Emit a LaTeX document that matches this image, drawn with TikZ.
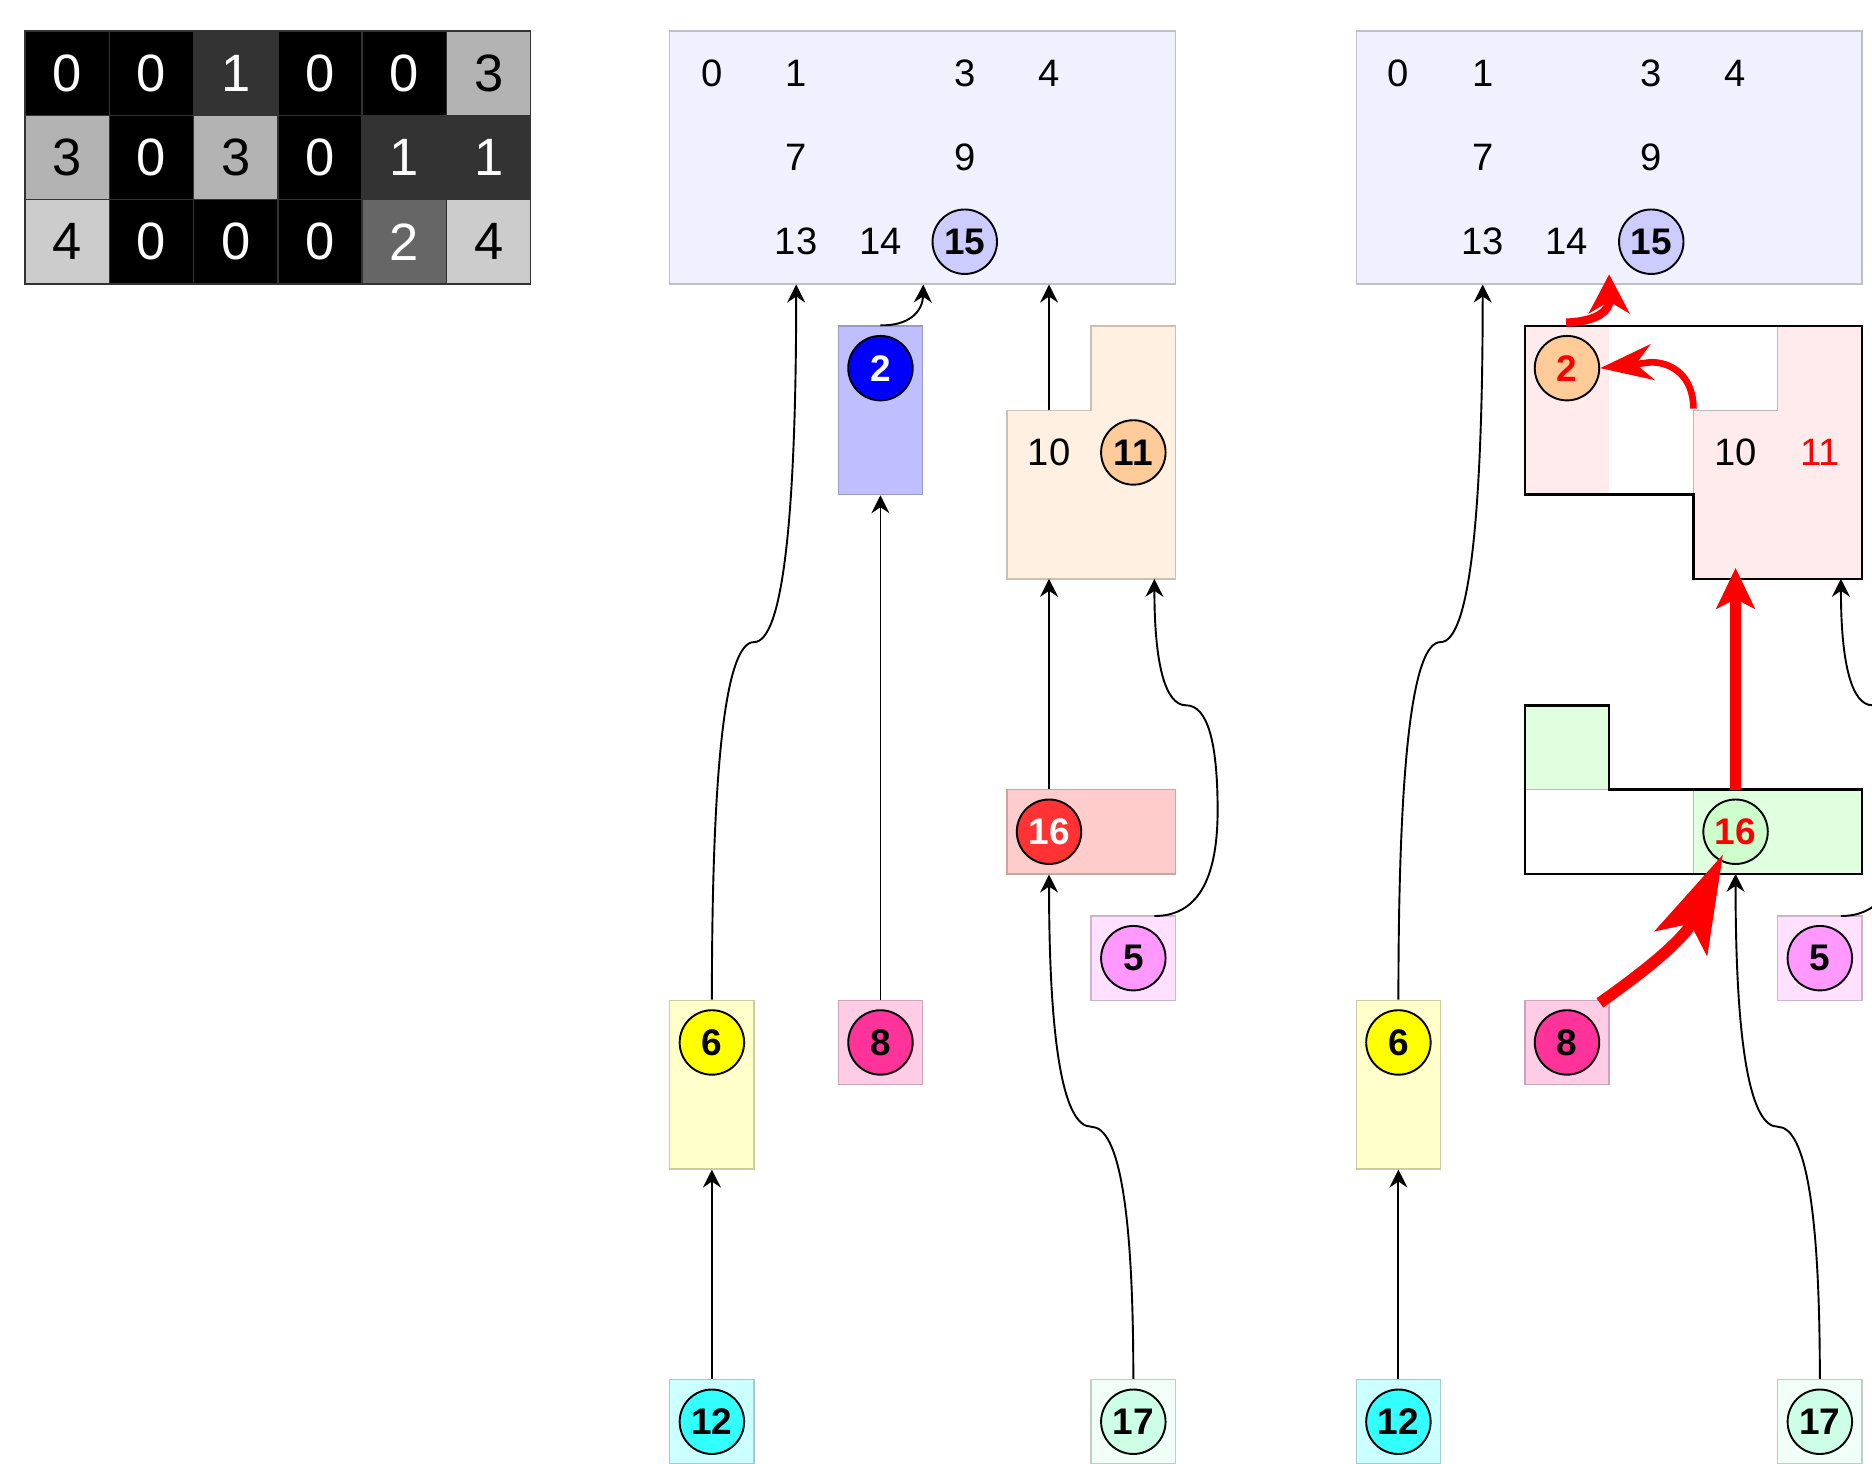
\documentclass[tikz,border=0pt]{standalone}
\usepackage{fontspec}
\setmainfont{Liberation Sans}
\usetikzlibrary{arrows.meta}
\definecolor{gOne}{HTML}{333333}
\definecolor{gTwo}{HTML}{666666}
\definecolor{gThree}{HTML}{B3B3B3}
\definecolor{gFour}{HTML}{CCCCCC}
\definecolor{panelF}{HTML}{F0F0FF}
\definecolor{cFifteen}{HTML}{CCCCFF}
\definecolor{boxTwo}{HTML}{BFBFFF}
\definecolor{cTwo}{HTML}{0000FF}
\definecolor{boxEleven}{HTML}{FFF0E1}
\definecolor{cEleven}{HTML}{FFCC99}
\definecolor{boxSixteen}{HTML}{FFCCCC}
\definecolor{cSixteen}{HTML}{FF3333}
\definecolor{boxFive}{HTML}{FFE1FF}
\definecolor{cFive}{HTML}{FF99FF}
\definecolor{boxEight}{HTML}{FFCCE6}
\definecolor{cEight}{HTML}{FF3399}
\definecolor{boxSix}{HTML}{FFFFCC}
\definecolor{cSix}{HTML}{FFFF00}
\definecolor{boxTwelve}{HTML}{CCFFFF}
\definecolor{cTwelve}{HTML}{33FFFF}
\definecolor{boxSeventeen}{HTML}{F0FFF7}
\definecolor{cSeventeen}{HTML}{CCFFE6}
\definecolor{mergePink}{HTML}{FFEBEB}
\definecolor{mergeGreen}{HTML}{DFFFDF}
\definecolor{cGreen}{HTML}{CCFFCC}
\definecolor{edgeRed}{HTML}{FF0000}
\definecolor{oldEdge}{HTML}{BDB8B8}
\begin{document}
\begin{tikzpicture}[x=35.3pt,y=-35.3pt,
  cell/.style={draw=black!80,line width=0.6pt,minimum size=35.3pt,inner sep=0pt,font=\fontsize{22}{24}\selectfont},
  gz/.style={cell,fill=black,text=white},
  go/.style={cell,fill=gOne,text=white},
  gw/.style={cell,fill=gTwo,text=white},
  gt/.style={cell,fill=gThree,text=black},
  gf/.style={cell,fill=gFour,text=black},
  panel/.style={draw=#1!80!black,fill=#1,line width=0.6pt,inner sep=0pt},
  one/.style={minimum width=35.3pt,minimum height=35.3pt},
  tall/.style={minimum width=35.3pt,minimum height=70.6pt},
  wide/.style={minimum width=70.6pt,minimum height=35.3pt},
  dot/.style={circle,draw=black,line width=0.8pt,fill=#1,minimum size=27pt,inner sep=0pt,font=\fontsize{15.5}{16}\selectfont\bfseries},
  lbl/.style={inner sep=0pt,font=\fontsize{16}{18}\selectfont},
  link/.style={line width=0.8pt,-{Stealth[length=7.5pt,width=7.5pt,inset=2.5pt]}},
  redlink/.style={draw=edgeRed,line cap=butt,line join=round},
  oldline/.style={draw=oldEdge,line width=0.6pt},
  mergeline/.style={draw=black,line width=1.1pt}
]
\useasboundingbox (0,0) rectangle (22.21,17.365);
\clip (0,0) rectangle (22.21,17.365);

% ---------------- grid ----------------
\begin{scope}[shift={(0.297,0.368)}]
  \node[gz] (g00) at (0.5,0.5) {0};
  \node[gz] (g01) at (1.5,0.5) {0};
  \node[go] (g02) at (2.5,0.5) {1};
  \node[gz] (g03) at (3.5,0.5) {0};
  \node[gz] (g04) at (4.5,0.5) {0};
  \node[gt] (g05) at (5.5,0.5) {3};
  \node[gt] (g10) at (0.5,1.5) {3};
  \node[gz] (g11) at (1.5,1.5) {0};
  \node[gt] (g12) at (2.5,1.5) {3};
  \node[gz] (g13) at (3.5,1.5) {0};
  \node[go] (g14) at (4.5,1.5) {1};
  \node[go] (g15) at (5.5,1.5) {1};
  \node[gf] (g20) at (0.5,2.5) {4};
  \node[gz] (g21) at (1.5,2.5) {0};
  \node[gz] (g22) at (2.5,2.5) {0};
  \node[gz] (g23) at (3.5,2.5) {0};
  \node[gw] (g24) at (4.5,2.5) {2};
  \node[gf] (g25) at (5.5,2.5) {4};
\end{scope}

% ---------------- middle panel ----------------
\begin{scope}[shift={(7.946,0.368)}]
  \node[panel=panelF,minimum width=211.8pt,minimum height=105.9pt] (mBig) at (3,1.5) {};
  \node[lbl] (mT0) at (0.5,0.5) {0};
  \node[lbl] (mT1) at (1.5,0.5) {1};
  \node[lbl] (mT3) at (3.5,0.5) {3};
  \node[lbl] (mT4) at (4.5,0.5) {4};
  \node[lbl] (mT7) at (1.5,1.5) {7};
  \node[lbl] (mT9) at (3.5,1.5) {9};
  \node[lbl] (mT13) at (1.5,2.5) {13};
  \node[lbl] (mT14) at (2.5,2.5) {14};
  \node[dot=cFifteen] (mC15) at (3.5,2.5) {15};

  \node[panel=boxTwo,tall] (mB2) at (2.5,4.5) {};
  \node[dot=cTwo,text=white] (mC2) at (2.5,4) {2};

  \draw[draw=boxEleven!80!black,fill=boxEleven,line width=0.6pt] (4,4.5) -- (5,4.5) -- (5,3.5) -- (6,3.5) -- (6,6.5) -- (4,6.5) -- cycle;
  \coordinate (mS10top) at (4.5,4.5);
  \coordinate (mS10bot) at (4.5,6.5);
  \coordinate (mS11bot) at (5.75,6.5);
  \node[lbl] (mT10) at (4.5,5) {10};
  \node[dot=cEleven] (mC11) at (5.5,5) {11};

  \node[panel=boxSixteen,wide] (mB16) at (5,9.5) {};
  \node[dot=cSixteen,text=white] (mC16) at (4.5,9.5) {16};

  \node[panel=boxFive,one] (mB5) at (5.5,11) {};
  \node[dot=cFive] (mC5) at (5.5,11) {5};
  \coordinate (mS5top) at (5.75,10.5);

  \node[panel=boxEight,one] (mB8) at (2.5,12) {};
  \node[dot=cEight] (mC8) at (2.5,12) {8};

  \node[panel=boxSix,tall] (mB6) at (0.5,12.5) {};
  \node[dot=cSix] (mC6) at (0.5,12) {6};

  \node[panel=boxTwelve,one] (mB12) at (0.5,16.5) {};
  \node[dot=cTwelve] (mC12) at (0.5,16.5) {12};

  \node[panel=boxSeventeen,one] (mB17) at (5.5,16.5) {};
  \node[dot=cSeventeen] (mC17) at (5.5,16.5) {17};

  \draw[link] (mB12.north) -- (mB6.south);
  \draw[link] (mB6.north) .. controls (0.5,8.667) and (0.667,7.25) .. (1,7.25) .. controls (1.333,7.25) and (1.5,5.833) .. (mBig.south -| mT1);
  \draw[link] (mB8.north) -- (mB2.south);
  \draw[link] (mB2.north) .. controls (2.833,3.5) and (3,3.333) .. (mBig.south -| mB2.east);
  \draw[link] (mS10top) -- (mBig.south -| mS10top);
  \draw[link] (mB16.north -| mC16) -- (mS10bot);
  \draw[link] (mB17.north) .. controls (5.5,14) and (5.333,13) .. (5,13) .. controls (4.667,13) and (4.5,12) .. (mB16.south -| mC16);
  \draw[link] (mS5top) .. controls (6.25,10.5) and (6.5,10.083) .. (6.5,9.25) .. controls (6.5,8.417) and (6.375,8) .. (6.125,8) .. controls (5.875,8) and (5.75,7.5) .. (mS11bot);
\end{scope}

% ---------------- right panel ----------------
\begin{scope}[shift={(16.091,0.368)}]
  \node[panel=panelF,minimum width=211.8pt,minimum height=105.9pt] (rBig) at (3,1.5) {};
  \node[lbl] (rT0) at (0.5,0.5) {0};
  \node[lbl] (rT1) at (1.5,0.5) {1};
  \node[lbl] (rT3) at (3.5,0.5) {3};
  \node[lbl] (rT4) at (4.5,0.5) {4};
  \node[lbl] (rT7) at (1.5,1.5) {7};
  \node[lbl] (rT9) at (3.5,1.5) {9};
  \node[lbl] (rT13) at (1.5,2.5) {13};
  \node[lbl] (rT14) at (2.5,2.5) {14};
  \node[dot=cFifteen] (rC15) at (3.5,2.5) {15};

  % merged upper region
  \fill[mergePink] (2,3.5) rectangle (3,5.5);
  \fill[mergePink] (4,4.5) -- (5,4.5) -- (5,3.5) -- (6,3.5) -- (6,6.5) -- (4,6.5) -- cycle;
  \draw[oldline] (4,5.5) -- (4,4.5) -- (5,4.5) -- (5,3.5);
  \draw[mergeline] (2,3.5) -- (6,3.5) -- (6,6.5) -- (4,6.5) -- (4,5.5) -- (2,5.5) -- cycle;
  \coordinate (rS10top) at (4,4.48);
  \coordinate (rS11bot) at (5.75,6.5);
  \node[dot=cEleven,text=edgeRed] (rC2) at (2.5,4) {2};
  \node[lbl] (rT10) at (4.5,5) {10};
  \node[lbl,text=edgeRed] (rT11) at (5.5,5) {11};

  % merged lower region
  \fill[mergeGreen] (2,8) rectangle (3,9);
  \fill[mergeGreen] (4,9) rectangle (6,10);
  \draw[oldline] (2,9) -- (3,9);
  \draw[oldline] (4,9) -- (4,10);
  \draw[mergeline] (2,8) -- (3,8) -- (3,9) -- (6,9) -- (6,10) -- (2,10) -- cycle;
  \coordinate (rG16top) at (4.5,9);
  \coordinate (rG16bot) at (4.5,10);
  \node[dot=cGreen,text=edgeRed] (rC16) at (4.5,9.5) {16};

  \node[panel=boxFive,one] (rB5) at (5.5,11) {};
  \node[dot=cFive] (rC5) at (5.5,11) {5};
  \coordinate (rS5top) at (5.75,10.5);

  \node[panel=boxEight,one] (rB8) at (2.5,12) {};
  \node[dot=cEight] (rC8) at (2.5,12) {8};

  \node[panel=boxSix,tall] (rB6) at (0.5,12.5) {};
  \node[dot=cSix] (rC6) at (0.5,12) {6};

  \node[panel=boxTwelve,one] (rB12) at (0.5,16.5) {};
  \node[dot=cTwelve] (rC12) at (0.5,16.5) {12};

  \node[panel=boxSeventeen,one] (rB17) at (5.5,16.5) {};
  \node[dot=cSeventeen] (rC17) at (5.5,16.5) {17};

  % black connectors
  \draw[link] (rB12.north) -- (rB6.south);
  \draw[link] (rB6.north) .. controls (0.5,8.667) and (0.667,7.25) .. (1,7.25) .. controls (1.333,7.25) and (1.5,5.833) .. (rBig.south -| rT1);
  \draw[link] (rB17.north) .. controls (5.5,14) and (5.333,13) .. (5,13) .. controls (4.667,13) and (4.5,12) .. (rG16bot);
  \draw[link] (rS5top) .. controls (6.25,10.5) and (6.5,10.083) .. (6.5,9.25) .. controls (6.5,8.417) and (6.375,8) .. (6.125,8) .. controls (5.875,8) and (5.75,7.5) .. (rS11bot);

  % red connectors
  \coordinate (rRedTip) at (4.5,6.37);
  \draw[redlink,line width=4.8pt,-{Stealth[length=17pt,width=16pt,inset=4pt]}] (rG16top) -- (rRedTip);

  \coordinate (rS8) at (2.89,11.53);
  \coordinate (rBend8) at (3.93,10.66);
  \coordinate (rTip8) at (4.35,9.77);
  \draw[redlink,line width=4.8pt,-{Stealth[length=41pt,width=24pt,inset=9pt]}] (rS8) .. controls (3.30,11.24) and (3.72,10.92) .. (rBend8) -- (rTip8);

  \coordinate (rBend10) at (3.50,3.93);
  \draw[redlink,line width=2.8pt,-{Stealth[length=22pt,width=15pt,inset=7pt]}] (rS10top) .. controls (4,4.1) and (3.75,3.93) .. (rBend10) -- (rC2.east);

  \coordinate (rS2) at (2.49,3.46);
  \coordinate (rBend2) at (3.0,3.23);
  \coordinate (rTip2) at (3.0,2.887);
  \draw[redlink,line width=3.5pt,-{Stealth[length=16.3pt,width=17pt,inset=5pt]}] (rS2) .. controls (2.75,3.45) and (2.96,3.38) .. (rBend2) -- (rTip2);
\end{scope}
\end{tikzpicture}
\end{document}
